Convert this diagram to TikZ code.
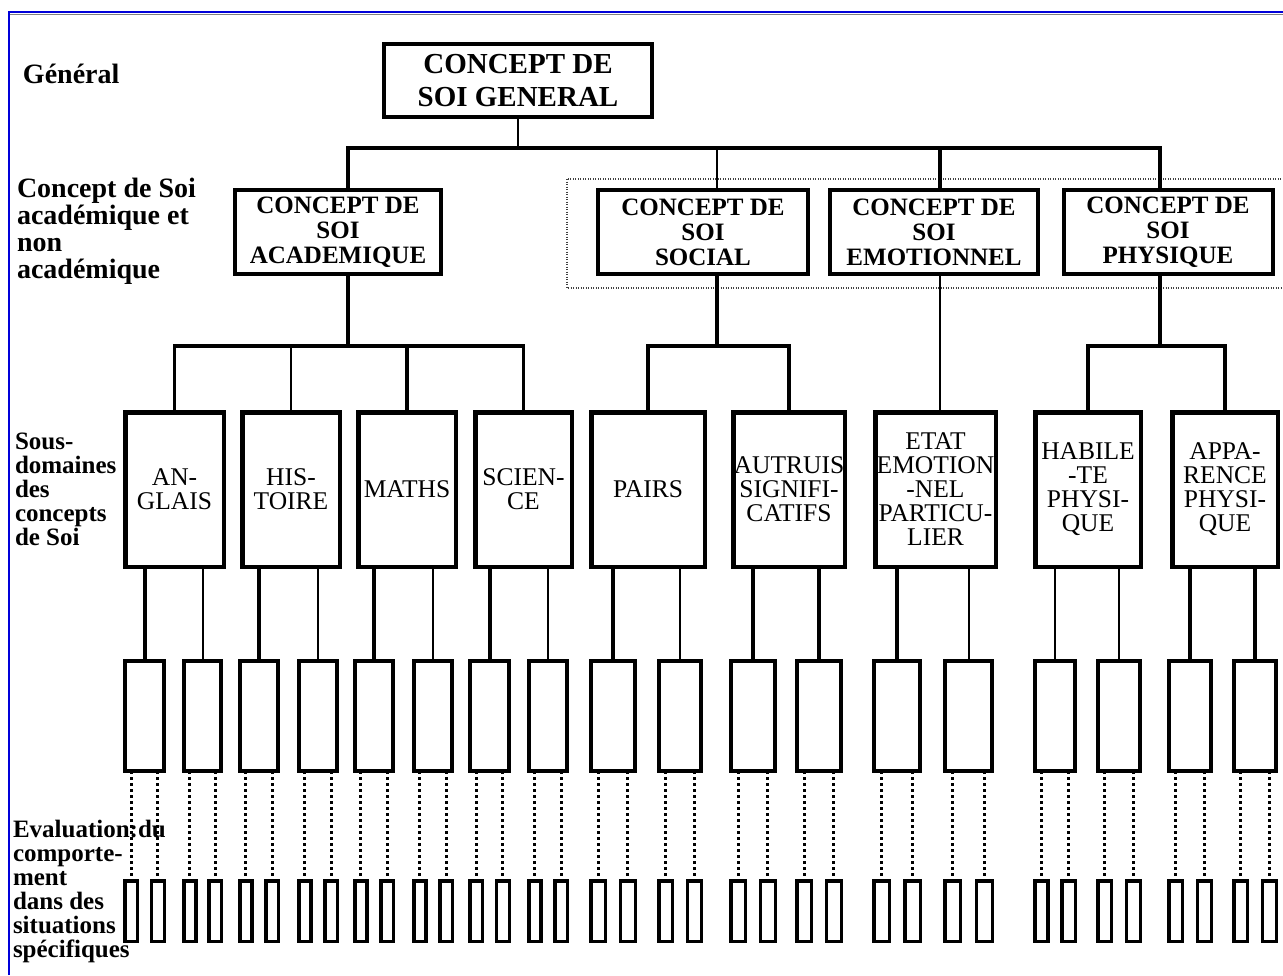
\documentclass[tikz,border=0pt]{standalone}
\usepackage{fontspec}
\setmainfont{Liberation Serif}
\begin{document}
\begin{tikzpicture}[x=1pt,y=-1pt,
  every node/.style={inner sep=0pt, outer sep=0pt},
  topbox/.style={draw, line width=4pt, font=\bfseries\fontsize{25}{25}\selectfont, align=center},
  subbox/.style={draw, line width=4.5pt, font=\fontsize{25.5}{24}\selectfont, align=center},
  itembox/.style={draw, line width=4pt},
  sitbox/.style={draw, line width=3.5pt},
  lbl/.style={anchor=base west, align=left, font=\bfseries\fontsize{25}{24}\selectfont},
  biglbl/.style={lbl, font=\bfseries\fontsize{28}{27}\selectfont},
  conn/.style={line width=3.5pt},
  lwA/.style={line width=4pt}, lwB/.style={line width=2pt},
  dotA/.style={line width=3pt, dash pattern=on 3pt off 3pt},
  grp/.style={line width=1.3pt, black!75, dash pattern=on 1pt off 1.5pt}
]
\useasboundingbox (0,0) rectangle (1283,975);
\fill[white] (0,0) rectangle (1283,975);
% frame
\draw[line width=2pt, blue!85!black] (9,975) -- (9,12) -- (1283,12);
\draw[line width=1.5pt, gray] (10,14.5) -- (1283,14.5);

% left labels (anchor = baseline of the last line)
\node[biglbl] (lg) at (23,83) {Général};
\node[biglbl] (lc) at (17,278) {Concept de Soi\\académique et\\non\\académique};
\node[lbl] (ls) at (15,545) {Sous-\\domaines\\des\\concepts\\de Soi};
\node[lbl] (le) at (13,957) {Evaluation:du\\comporte-\\ment\\dans des\\situations\\spécifiques};

% dotted group frame
\draw[grp] (567,179) rectangle (1295,288);

% level 1
\node[topbox, font=\bfseries\fontsize{29}{33}\selectfont, minimum width=268, minimum height=73] (gen) at (518,80.5) {CONCEPT DE\\SOI GENERAL};

% level 2
\node[topbox, minimum width=206, minimum height=84] (acad) at (338,232) {CONCEPT DE\\SOI\\ACADEMIQUE};
\node[topbox, minimum width=210, minimum height=84] (soc) at (703,232) {CONCEPT DE\\SOI\\SOCIAL};
\node[topbox, minimum width=208, minimum height=84] (emo) at (934,232) {CONCEPT DE\\SOI\\EMOTIONNEL};
\node[topbox, minimum width=209, minimum height=84] (phy) at (1168,232) {CONCEPT DE\\SOI\\PHYSIQUE};

% level 3
\node[subbox, minimum width=98.5, minimum height=154.5] (L1) at (174.5,489.5) {AN-\\GLAIS};
\node[subbox, minimum width=97.5, minimum height=154.5] (L2) at (291,489.5) {HIS-\\TOIRE};
\node[subbox, minimum width=97.5, minimum height=154.5] (L3) at (407,489.5) {MATHS};
\node[subbox, minimum width=96.5, minimum height=154.5] (L4) at (523.5,489.5) {SCIEN-\\CE};
\node[subbox, minimum width=113.5, minimum height=154.5] (L5) at (648,489.5) {PAIRS};
\node[subbox, minimum width=111.5, minimum height=154.5] (L6) at (789,489.5) {AUTRUIS\\SIGNIFI-\\CATIFS};
\node[subbox, minimum width=120.5, minimum height=154.5] (L7) at (935.5,489.5) {ETAT\\EMOTION\\-NEL\\PARTICU-\\LIER};
\node[subbox, minimum width=105.5, minimum height=154.5] (L8) at (1088,489.5) {HABILE\\-TE\\PHYSI-\\QUE};
\node[subbox, minimum width=105.5, minimum height=154.5] (L9) at (1225,489.5) {APPA-\\RENCE\\PHYSI-\\QUE};

% connectors top
\coordinate (dA) at (348,0);
\coordinate (dS) at (717,0);
\coordinate (dE) at (940,0);
\coordinate (dP) at (1160,0);
\coordinate (bus0) at (0,148);
\coordinate (bus1) at (0,346);
\draw[lwB] (gen.south) -- (gen.south |- bus0);
\draw[conn] (acad.north -| dA) -- (dA |- bus0) -- (dP |- bus0) -- (phy.north -| dP);
\draw[lwB] (dS |- bus0) -- (soc.north -| dS);
\draw[conn] (dE |- bus0) -- (emo.north -| dE);

\draw[conn] (acad.south -| dA) -- (dA |- bus1);
\draw[conn] (L1.north) -- (L1.north |- bus1) -- (L4.north |- bus1) -- (L4.north);
\draw[lwB] (L2.north) -- (L2.north |- bus1);
\draw[conn] (L3.north) -- (L3.north |- bus1);
\draw[conn] (soc.south -| dS) -- (dS |- bus1);
\draw[conn] (L5.north) -- (L5.north |- bus1) -- (L6.north |- bus1) -- (L6.north);
\draw[lwB] (emo.south -| dE) -- (L7.north -| dE);
\draw[conn] (phy.south -| dP) -- (dP |- bus1);
\draw[conn] (L8.north) -- (L8.north |- bus1) -- (L9.north |- bus1) -- (L9.north);

% levels 4 and 5
\foreach \i/\ax/\bx/\cx/\dx/\wa/\wb in {
1/123/166/182/223/lwA/lwB,
2/238/280/297/339/lwA/lwB,
3/353/395/412/454/lwA/lwB,
4/468/511/527/569/lwA/lwB,
5/589/637/657/703/lwA/lwB,
6/729/777/795/843/lwA/lwA,
7/872/922/943/994/lwA/lwB,
8/1033/1077/1096/1142/lwB/lwB,
9/1167/1213/1232/1278/lwA/lwA}{
  \node[itembox, minimum width={\bx-\ax-4}, minimum height=110] (A\i) at ({(\ax+\bx)/2},716) {};
  \node[itembox, minimum width={\dx-\cx-4}, minimum height=110] (B\i) at ({(\cx+\dx)/2},716) {};
  \draw[\wa] (L\i.south -| A\i) -- (A\i.north);
  \draw[\wb] (L\i.south -| B\i) -- (B\i.north);
  \pgfmathsetmacro\wA{0.38*(\bx-\ax)}
  \pgfmathsetmacro\wB{0.38*(\dx-\cx)}
  \node[sitbox, minimum width={\wA-3.5}, minimum height=60.5] (AA\i) at ({\ax+\wA/2},911) {};
  \node[sitbox, minimum width={\wA-3.5}, minimum height=60.5] (AB\i) at ({\bx-\wA/2},911) {};
  \node[sitbox, minimum width={\wB-3.5}, minimum height=60.5] (BA\i) at ({\cx+\wB/2},911) {};
  \node[sitbox, minimum width={\wB-3.5}, minimum height=60.5] (BB\i) at ({\dx-\wB/2},911) {};
  \draw[dotA] (A\i.south -| AA\i) -- (AA\i.north);
  \draw[dotA] (A\i.south -| AB\i) -- (AB\i.north);
  \draw[dotA] (B\i.south -| BA\i) -- (BA\i.north);
  \draw[dotA] (B\i.south -| BB\i) -- (BB\i.north);
}
\end{tikzpicture}
\end{document}
